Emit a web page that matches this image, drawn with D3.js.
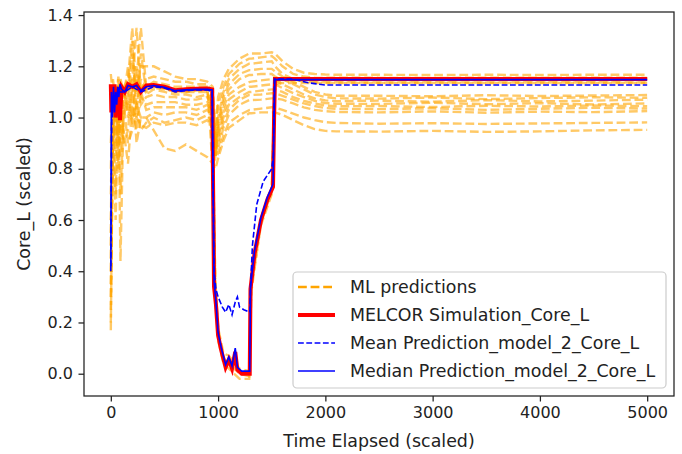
<!DOCTYPE html>
<html>
<head>
<meta charset="utf-8">
<script src="https://cdn.jsdelivr.net/npm/d3@7"></script>
<style>
  html, body { margin: 0; padding: 0; background: #fff; }
  svg { display: block; font-family: "DejaVu Sans", sans-serif; }
</style>
</head>
<body>
<svg id="chart" width="682" height="454"></svg>
<script>
// ---------------- DATA ----------------
const xTicks = [0, 1000, 2000, 3000, 4000, 5000];
const yTicks = [0.0, 0.2, 0.4, 0.6, 0.8, 1.0, 1.2, 1.4];
const xLabel = "Time Elapsed (scaled)";
const yLabel = "Core_L (scaled)";
const legendLabels = ["ML predictions", "MELCOR Simulation_Core_L", "Mean Prediction_model_2_Core_L", "Median Prediction_model_2_Core_L"];

// time grid shared by the ML prediction members
const mlTime = [0, 20, 45, 70, 90, 120, 160, 200, 240, 280, 330, 400, 500, 600, 700, 800, 900, 950, 975, 1000,
  1050, 1100, 1200, 1290, 1310, 1400, 1500, 1530, 1600, 1700, 1800, 1900, 2000, 2100, 2500, 3000, 3500, 4000, 4500, 5000];

const ml01 = [0.60, 1.15, 1.05, 1.16, 1.10, 1.12, 1.15, 1.35, 1.10, 1.20, 1.20, 1.20, 1.18, 1.16, 1.15, 1.15, 1.14, 1.12, 0.95, 1.08,
  1.15, 1.19, 1.23, 1.25, 1.25, 1.25, 1.255, 1.25, 1.22, 1.19, 1.175, 1.17, 1.168, 1.167, 1.167, 1.166, 1.167, 1.166, 1.167, 1.167];
const ml02 = [0.30, 1.10, 0.90, 1.12, 0.95, 1.10, 1.12, 1.15, 1.35, 1.10, 1.15, 1.16, 1.15, 1.14, 1.14, 1.13, 1.13, 1.10, 0.90, 1.05,
  1.12, 1.17, 1.21, 1.23, 1.23, 1.235, 1.24, 1.23, 1.20, 1.17, 1.16, 1.155, 1.155, 1.156, 1.155, 1.154, 1.156, 1.155, 1.156, 1.155];
const ml03 = [0.17, 1.05, 1.10, 0.95, 1.12, 1.08, 1.20, 1.05, 1.15, 1.35, 1.12, 1.14, 1.13, 1.12, 1.12, 1.12, 1.12, 1.10, 0.85, 1.00,
  1.10, 1.15, 1.19, 1.21, 1.21, 1.215, 1.22, 1.20, 1.17, 1.15, 1.14, 1.138, 1.137, 1.137, 1.136, 1.137, 1.136, 1.137, 1.137, 1.136];
const ml04 = [0.50, 1.12, 0.70, 1.10, 0.44, 1.05, 1.10, 1.30, 1.00, 1.25, 1.10, 1.13, 1.12, 1.11, 1.10, 1.10, 1.10, 1.08, 0.88, 0.98,
  1.08, 1.13, 1.17, 1.185, 1.185, 1.19, 1.19, 1.18, 1.16, 1.14, 1.12, 1.10, 1.09, 1.085, 1.085, 1.083, 1.087, 1.084, 1.086, 1.088];
const ml05 = [0.40, 1.00, 1.12, 0.80, 1.05, 1.10, 1.05, 1.25, 1.05, 1.15, 1.09, 1.11, 1.10, 1.09, 1.09, 1.08, 1.09, 1.06, 0.90, 0.97,
  1.06, 1.11, 1.15, 1.166, 1.166, 1.17, 1.17, 1.16, 1.15, 1.13, 1.11, 1.09, 1.08, 1.075, 1.074, 1.078, 1.072, 1.076, 1.079, 1.077];
const ml06 = [0.80, 1.10, 1.00, 1.15, 0.90, 1.12, 1.00, 1.10, 1.20, 1.05, 1.08, 1.09, 1.08, 1.08, 1.07, 1.07, 1.08, 1.05, 0.87, 0.95,
  1.04, 1.09, 1.12, 1.138, 1.14, 1.145, 1.15, 1.145, 1.13, 1.11, 1.09, 1.075, 1.067, 1.064, 1.066, 1.062, 1.068, 1.063, 1.066, 1.07];
const ml07 = [0.25, 0.90, 1.08, 1.05, 0.70, 1.00, 1.10, 1.00, 1.15, 1.08, 1.05, 1.06, 1.06, 1.06, 1.05, 1.05, 1.06, 1.03, 0.85, 0.93,
  1.02, 1.07, 1.10, 1.12, 1.12, 1.125, 1.13, 1.13, 1.115, 1.095, 1.08, 1.065, 1.057, 1.054, 1.053, 1.058, 1.052, 1.056, 1.051, 1.055];
const ml08 = [0.55, 1.05, 0.85, 1.10, 1.00, 0.95, 0.82, 1.05, 0.95, 1.10, 1.03, 1.04, 1.04, 1.04, 1.04, 1.03, 1.05, 1.02, 0.88, 0.92,
  1.00, 1.05, 1.08, 1.10, 1.10, 1.105, 1.11, 1.11, 1.10, 1.08, 1.065, 1.055, 1.047, 1.044, 1.045, 1.041, 1.046, 1.043, 1.047, 1.044];
const ml09 = [0.70, 1.08, 0.95, 1.00, 1.10, 0.90, 0.95, 1.15, 0.90, 1.00, 1.00, 1.02, 1.01, 1.02, 1.02, 1.01, 1.03, 1.00, 0.86, 0.90,
  0.98, 1.03, 1.07, 1.088, 1.088, 1.09, 1.095, 1.095, 1.085, 1.07, 1.055, 1.045, 1.037, 1.034, 1.033, 1.036, 1.03, 1.034, 1.038, 1.035];
const ml10 = [0.35, 0.95, 0.60, 1.05, 0.85, 1.05, 0.90, 0.95, 1.05, 0.95, 0.98, 1.00, 0.98, 0.99, 1.00, 0.99, 1.01, 0.98, 0.85, 0.88,
  0.96, 1.01, 1.05, 1.068, 1.068, 1.07, 1.075, 1.075, 1.07, 1.055, 1.04, 1.03, 1.025, 1.022, 1.02, 1.024, 1.019, 1.023, 1.021, 1.025];
const ml11 = [0.90, 1.10, 1.05, 0.90, 1.12, 1.08, 1.05, 0.98, 1.00, 0.97, 0.96, 0.98, 0.97, 0.98, 0.98, 0.97, 0.99, 0.96, 0.84, 0.86,
  0.93, 0.98, 1.01, 1.029, 1.03, 1.035, 1.04, 1.04, 1.03, 1.015, 1.00, 0.99, 0.982, 0.979, 0.976, 0.978, 0.975, 0.977, 0.979, 0.981];
const ml12 = [1.10, 1.00, 1.10, 1.05, 1.15, 1.10, 1.02, 1.00, 1.05, 1.00, 1.00, 0.95, 0.88, 0.87, 0.895, 0.87, 0.845, 0.82, 0.80, 0.84,
  0.91, 0.96, 0.99, 1.017, 1.017, 1.02, 1.02, 1.02, 1.01, 0.99, 0.97, 0.955, 0.948, 0.946, 0.945, 0.948, 0.944, 0.946, 0.95, 0.952];
const ml13 = [0.45, 1.12, 1.00, 1.13, 1.05, 1.12, 1.12, 1.13, 1.12, 1.12, 1.12, 1.125, 1.12, 1.105, 1.11, 1.11, 1.11, 0.90, 0.33, 0.16,
  0.06, 0.04, 0.00, -0.01, 0.37, 0.60, 0.72, 1.14, 1.145, 1.145, 1.145, 1.145, 1.145, 1.145, 1.145, 1.145, 1.145, 1.145, 1.145, 1.145];
const ml14 = [1.17, 1.08, 1.12, 1.02, 1.13, 1.11, 1.13, 1.12, 1.13, 1.11, 1.12, 1.12, 1.115, 1.10, 1.105, 1.11, 1.115, 0.80, 0.36, 0.18,
  0.08, 0.07, 0.02, 0.01, 0.34, 0.58, 0.70, 1.15, 1.152, 1.152, 1.152, 1.152, 1.152, 1.152, 1.152, 1.152, 1.152, 1.152, 1.152, 1.152];
const ml15 = [0.20, 1.02, 1.10, 1.06, 1.12, 1.10, 1.12, 1.11, 1.12, 1.10, 1.11, 1.115, 1.11, 1.10, 1.10, 1.105, 1.105, 1.00, 0.30, 0.13,
  0.04, 0.02, -0.02, -0.02, 0.32, 0.59, 0.71, 1.13, 1.135, 1.135, 1.135, 1.135, 1.135, 1.135, 1.135, 1.135, 1.135, 1.135, 1.135, 1.135];
const mlSeries = [ml01, ml02, ml03, ml04, ml05, ml06, ml07, ml08, ml09, ml10, ml11, ml12, ml13, ml14, ml15];

// MELCOR simulation
const melTime = [0, 5, 15, 25, 35, 45, 55, 65, 75, 85, 100, 130, 160, 200, 240, 280, 330, 400, 500, 600, 700, 800, 900, 945,
  962, 980, 1000, 1030, 1070, 1100, 1130, 1160, 1180, 1220, 1295, 1302, 1340, 1400, 1460, 1512, 1522, 1530, 2000, 3000, 4000, 5000];
const melValues = [1.13, 1.02, 1.12, 1.05, 1.13, 1.00, 1.10, 1.03, 1.12, 0.99, 1.12, 1.10, 1.13, 1.12, 1.13, 1.10, 1.125, 1.127, 1.12, 1.107, 1.11, 1.112, 1.113, 1.11,
  0.34, 0.27, 0.15, 0.09, 0.025, 0.055, 0.02, 0.085, 0.015, 0.0, 0.0, 0.33, 0.47, 0.60, 0.68, 0.73, 1.0, 1.15, 1.15, 1.15, 1.15, 1.15];

// Median prediction
const medTime = [0, 5, 15, 25, 35, 45, 55, 65, 75, 85, 100, 130, 160, 200, 240, 280, 330, 400, 500, 600, 700, 800, 900, 945,
  962, 980, 1000, 1030, 1070, 1100, 1130, 1160, 1180, 1220, 1295, 1302, 1340, 1400, 1460, 1512, 1522, 1530, 2000, 3000, 4000, 5000];
const medValues = [0.40, 1.10, 1.00, 1.12, 1.02, 1.10, 1.05, 1.12, 1.08, 1.13, 1.11, 1.10, 1.125, 1.12, 1.125, 1.105, 1.12, 1.125, 1.118, 1.105, 1.108, 1.11, 1.11, 1.108,
  0.36, 0.28, 0.16, 0.10, 0.035, 0.065, 0.03, 0.10, 0.025, 0.01, 0.01, 0.34, 0.48, 0.61, 0.69, 0.74, 1.0, 1.148, 1.148, 1.148, 1.148, 1.148];

// Mean prediction
const meanTime = [0, 10, 30, 60, 90, 130, 200, 280, 400, 500, 600, 700, 800, 900, 945, 962, 980, 1000, 1040, 1070, 1100, 1130,
  1160, 1180, 1200, 1240, 1295, 1302, 1320, 1360, 1420, 1500, 1515, 1525, 1700, 1850, 2000, 3000, 4000, 5000];
const meanValues = [0.42, 1.08, 1.05, 1.1, 1.1, 1.1, 1.12, 1.1, 1.12, 1.115, 1.1, 1.105, 1.108, 1.108, 1.1, 0.40, 0.33, 0.30, 0.26, 0.24, 0.27, 0.23,
  0.28, 0.30, 0.26, 0.25, 0.24, 0.33, 0.50, 0.66, 0.75, 0.80, 0.85, 1.15, 1.15, 1.135, 1.127, 1.127, 1.127, 1.127];

// ---------------- CHART ----------------
const svg = d3.select("#chart");
const L = 84, R = 674, T = 12, B = 396;
const x = d3.scaleLinear().domain([-250, 5250]).range([L, R]);
const y = d3.scaleLinear().domain([-0.087, 1.412]).range([B, T]);
const textColor = "#222";
const tickFs = 16;
const labelFs = 17.4;

svg.append("clipPath").attr("id", "clip")
  .append("rect").attr("x", L).attr("y", T).attr("width", R - L).attr("height", B - T);

const plot = svg.append("g").attr("clip-path", "url(#clip)");

const line = d3.line().x(d => x(d[0])).y(d => y(d[1]));

mlSeries.forEach(s => {
  plot.append("path")
    .datum(mlTime.map((t, i) => [t, s[i]]))
    .attr("d", line)
    .attr("fill", "none")
    .attr("stroke", "#FFA500")
    .attr("stroke-opacity", 0.6)
    .attr("stroke-width", 2.4)
    .attr("stroke-dasharray", "8.8,3.8");
});

plot.append("path")
  .datum(melTime.map((t, i) => [t, melValues[i]]))
  .attr("d", line).attr("fill", "none")
  .attr("stroke", "#FF0000").attr("stroke-width", 4);

plot.append("path")
  .datum(meanTime.map((t, i) => [t, meanValues[i]]))
  .attr("d", line).attr("fill", "none")
  .attr("stroke", "#0000FF").attr("stroke-width", 1.6)
  .attr("stroke-dasharray", "5.8,2.5");

plot.append("path")
  .datum(medTime.map((t, i) => [t, medValues[i]]))
  .attr("d", line).attr("fill", "none")
  .attr("stroke", "#0000FF").attr("stroke-width", 1.6);

// axes
const xAxis = svg.append("g").attr("transform", `translate(0,${B})`)
  .call(d3.axisBottom(x).tickValues(xTicks).tickFormat(d3.format("d")).tickSize(5.5).tickPadding(5.5).tickSizeOuter(0));
const yAxis = svg.append("g").attr("transform", `translate(${L},0)`)
  .call(d3.axisLeft(y).tickValues(yTicks).tickFormat(d3.format(".1f")).tickSize(5.5).tickPadding(5.5).tickSizeOuter(0));
[xAxis, yAxis].forEach(a => {
  a.select(".domain").remove();
  a.selectAll(".tick line").attr("stroke", textColor).attr("stroke-width", 1.26);
  a.selectAll(".tick text").attr("fill", textColor).style("font-size", tickFs + "px")
    .style("font-family", "DejaVu Sans, sans-serif");
});

// frame
svg.append("rect").attr("x", L).attr("y", T).attr("width", R - L).attr("height", B - T)
  .attr("fill", "none").attr("stroke", textColor).attr("stroke-width", 1.26);

// labels
svg.append("text").attr("x", (L + R) / 2).attr("y", 447)
  .attr("text-anchor", "middle").attr("fill", textColor).style("font-size", labelFs + "px").text(xLabel);
svg.append("text").attr("transform", `translate(30,${(T + B) / 2}) rotate(-90)`)
  .attr("text-anchor", "middle").attr("fill", textColor).style("font-size", labelFs + "px").text(yLabel);

// legend
const lg = svg.append("g");
lg.append("rect").attr("x", 293).attr("y", 272).attr("width", 373).attr("height", 116)
  .attr("rx", 4).attr("fill", "#fff").attr("fill-opacity", 0.8).attr("stroke", "#cccccc").attr("stroke-width", 1.2);
const legStyles = [
  { color: "#FFA500", width: 2.4, dash: "8.8,3.8" },
  { color: "#FF0000", width: 4, dash: null },
  { color: "#0000FF", width: 1.6, dash: "5.8,2.5" },
  { color: "#0000FF", width: 1.6, dash: null }
];
legendLabels.forEach((lab, i) => {
  const cy = 287 + i * 28;
  const st = legStyles[i];
  const ln = lg.append("line").attr("x1", 298).attr("x2", 335).attr("y1", cy).attr("y2", cy)
    .attr("stroke", st.color).attr("stroke-width", st.width);
  if (st.dash) ln.attr("stroke-dasharray", st.dash);
  lg.append("text").attr("x", 350).attr("y", cy + 6.3).attr("fill", textColor)
    .style("font-size", labelFs + "px").text(lab);
});
</script>
</body>
</html>
